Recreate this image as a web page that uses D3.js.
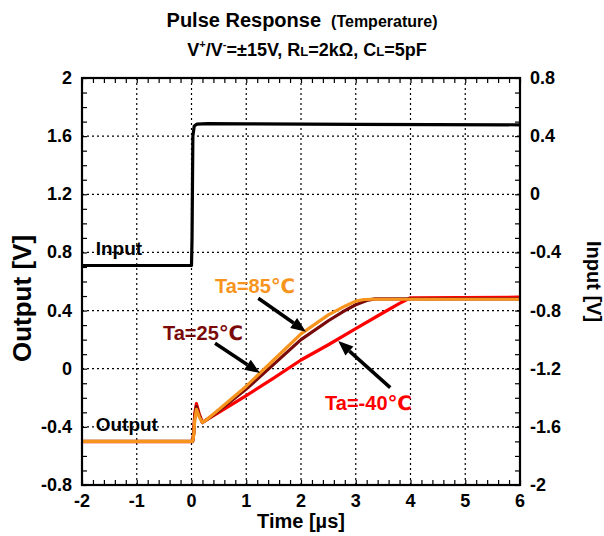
<!DOCTYPE html>
<html><head><meta charset="utf-8">
<script src="https://cdn.jsdelivr.net/npm/d3@7"></script>
<style>
body{margin:0;background:#fff;}
svg text{font-family:"Liberation Sans",Arial,"DejaVu Sans",sans-serif;font-weight:bold;}
</style></head>
<body><svg id="c" width="604" height="536"></svg>
<script>
// ---- data ----
const xTicks = [-2,-1,0,1,2,3,4,5,6];
const yLeftTicks = [-0.8,-0.4,0,0.4,0.8,1.2,1.6,2];
const yRightTicks = [-2,-1.6,-1.2,-0.8,-0.4,0,0.4,0.8];

// Input (right axis, V)
const inputT = [-2, 0, 0.01, 0.025, 0.05, 0.1, 0.3, 1, 3, 6];
const inputV = [-0.49, -0.49, -0.3, 0.40, 0.47, 0.483, 0.486, 0.484, 0.481, 0.478];

// Output (left axis, V)
const t85 = [-2, 0.02, 0.04, 0.06, 0.09, 0.14, 0.2, 0.28, 0.5, 1.0, 1.5, 2.0, 2.5, 2.8, 3.0, 3.15, 3.3, 6];
const v85 = [-0.5, -0.5, -0.46, -0.35, -0.28, -0.33, -0.37, -0.35, -0.28, -0.12, 0.06, 0.24, 0.37, 0.43, 0.465, 0.476, 0.478, 0.478];
const t25 = [-2, 0.02, 0.04, 0.06, 0.09, 0.14, 0.2, 0.28, 0.5, 1.0, 1.5, 2.0, 2.5, 2.8, 3.0, 3.2, 3.35, 6];
const v25 = [-0.5, -0.5, -0.45, -0.33, -0.26, -0.32, -0.37, -0.35, -0.29, -0.14, 0.03, 0.2, 0.33, 0.40, 0.44, 0.47, 0.48, 0.48];
const tm40 = [-2, 0.02, 0.04, 0.06, 0.09, 0.14, 0.2, 0.28, 0.5, 1.0, 1.5, 2.0, 2.5, 3.0, 3.5, 3.8, 4.0, 6];
const vm40 = [-0.502, -0.502, -0.44, -0.31, -0.24, -0.31, -0.37, -0.35, -0.3, -0.185, -0.065, 0.06, 0.165, 0.275, 0.385, 0.45, 0.488, 0.492];

const seriesNames = ["Ta=-40℃","Ta=25℃","Ta=85℃"];
const seriesColors = ["#ff0000","#7a0a0a","#f7941d"];

// annotation anchors (data units: label pos, arrow start, arrow tip)
const labelT = [2.44, -0.52, 0.43];
const labelV = [-0.285, 0.195, 0.52];
const arrowFromT = [3.63, 0.43, 1.22];
const arrowFromV = [-0.13, 0.175, 0.485];
const arrowToT = [2.68, 1.25, 2.09];
const arrowToV = [0.19, -0.03, 0.255];

// ---- layout ----
const svg = d3.select("#c");
const L=82, R=520, T=78, B=485;
const x = d3.scaleLinear().domain([-2,6]).range([L,R]);
const yL = d3.scaleLinear().domain([-0.8,2]).range([B,T]);
const yR = d3.scaleLinear().domain([-2,0.8]).range([B,T]);

// grid
const grid = svg.append("g").attr("stroke","#000").attr("stroke-width",1.2).attr("stroke-dasharray","2,3");
xTicks.slice(1,-1).forEach(v=>grid.append("line").attr("x1",x(v)).attr("x2",x(v)).attr("y1",T).attr("y2",B));
yLeftTicks.slice(1,-1).forEach(v=>grid.append("line").attr("x1",L).attr("x2",R).attr("y1",yL(v)).attr("y2",yL(v)));

// axes with inward ticks
const minorX = d3.range(-2,6.001,0.2);
const minorY = d3.range(-0.8,2.001,0.1);
const ax = svg.append("g");
ax.append("g").attr("transform",`translate(0,${B})`).call(d3.axisTop(x).tickValues(minorX).tickSize(5).tickFormat(""));
ax.append("g").attr("transform",`translate(0,${T})`).call(d3.axisBottom(x).tickValues(minorX).tickSize(5).tickFormat(""));
ax.append("g").attr("transform",`translate(${L},0)`).call(d3.axisRight(yL).tickValues(minorY).tickSize(5).tickFormat(""));
ax.append("g").attr("transform",`translate(${R},0)`).call(d3.axisLeft(yL).tickValues(minorY).tickSize(5).tickFormat(""));
ax.selectAll(".domain").remove();
ax.selectAll(".tick line").attr("stroke","#000").attr("stroke-width",1.2);

// tick labels
const lab = svg.append("g").attr("font-size",18).attr("fill","#000");
xTicks.forEach(v=>lab.append("text").attr("x",x(v)).attr("y",B+22).attr("text-anchor","middle").text(v));
yLeftTicks.forEach(v=>lab.append("text").attr("x",L-10).attr("y",yL(v)+6).attr("text-anchor","end").text(v));
yRightTicks.forEach(v=>lab.append("text").attr("x",R+10).attr("y",yR(v)+6).attr("text-anchor","start").text(v));

// axis titles
svg.append("text").attr("x",(L+R)/2).attr("y",528).attr("text-anchor","middle").attr("font-size",20).text("Time [µs]");
svg.append("text").attr("transform",`translate(31,${(T+B)/2+17}) rotate(-90)`).attr("text-anchor","middle").attr("font-size",26).text("Output [V]");
svg.append("text").attr("transform",`translate(587,${(T+B)/2}) rotate(90)`).attr("text-anchor","middle").attr("font-size",20).text("Input [V]");

// title
const t1 = svg.append("text").attr("x",302).attr("y",27).attr("text-anchor","middle").attr("font-size",20);
t1.append("tspan").text("Pulse Response");
t1.append("tspan").attr("font-size",16).attr("dx",10).text("(Temperature)");
const t2 = svg.append("text").attr("x",307).attr("y",56).attr("text-anchor","middle").attr("font-size",18);
t2.append("tspan").text("V");
t2.append("tspan").attr("font-size",11).attr("dy",-8).text("+");
t2.append("tspan").attr("dy",8).text("/V");
t2.append("tspan").attr("font-size",11).attr("dy",-8).text("-");
t2.append("tspan").attr("dy",8).text("=±15V, R");
t2.append("tspan").attr("font-size",13).text("L");
t2.append("tspan").text("=2kΩ, C");
t2.append("tspan").attr("font-size",13).text("L");
t2.append("tspan").text("=5pF");

// lines
const plot = svg.append("g");
const lineL = d3.line().x(d=>x(d[0])).y(d=>yL(d[1]));
const lineR = d3.line().x(d=>x(d[0])).y(d=>yR(d[1]));
const outT = [tm40,t25,t85], outV=[vm40,v25,v85];
[0,1,2].forEach(i=>{
  plot.append("path").datum(outT[i].map((t,k)=>[t,outV[i][k]]))
    .attr("d",lineL).attr("fill","none").attr("stroke",seriesColors[i]).attr("stroke-width",3.2).attr("stroke-linejoin","round");
});
plot.append("path").datum(inputT.map((t,k)=>[t,inputV[k]]))
  .attr("d",lineR).attr("fill","none").attr("stroke","#000").attr("stroke-width",3.2).attr("stroke-linejoin","round");

// frame
svg.append("rect").attr("x",L).attr("y",T).attr("width",R-L).attr("height",B-T).attr("fill","none").attr("stroke","#000").attr("stroke-width",2.2);

// annotations
const an = svg.append("g").attr("font-size",20);
an.append("text").attr("x",x(-1.75)).attr("y",yL(0.78)).attr("font-size",19).text("Input");
an.append("text").attr("x",x(-1.75)).attr("y",yL(-0.43)).attr("font-size",19).text("Output");
seriesNames.forEach((n,i)=>{
  an.append("text").attr("x",x(labelT[i])).attr("y",yL(labelV[i])).attr("fill",seriesColors[i]).text(n);
  const x1=x(arrowFromT[i]), y1=yL(arrowFromV[i]), x2=x(arrowToT[i]), y2=yL(arrowToV[i]);
  const ang=Math.atan2(y2-y1,x2-x1), hl=15, hw=6;
  const bx=x2-hl*Math.cos(ang), by=y2-hl*Math.sin(ang);
  an.append("line").attr("x1",x1).attr("y1",y1).attr("x2",bx).attr("y2",by).attr("stroke","#000").attr("stroke-width",3.5);
  an.append("path").attr("d",`M${x2},${y2}L${bx+hw*Math.sin(ang)},${by-hw*Math.cos(ang)}L${bx-hw*Math.sin(ang)},${by+hw*Math.cos(ang)}Z`).attr("fill","#000");
});
</script></body></html>
